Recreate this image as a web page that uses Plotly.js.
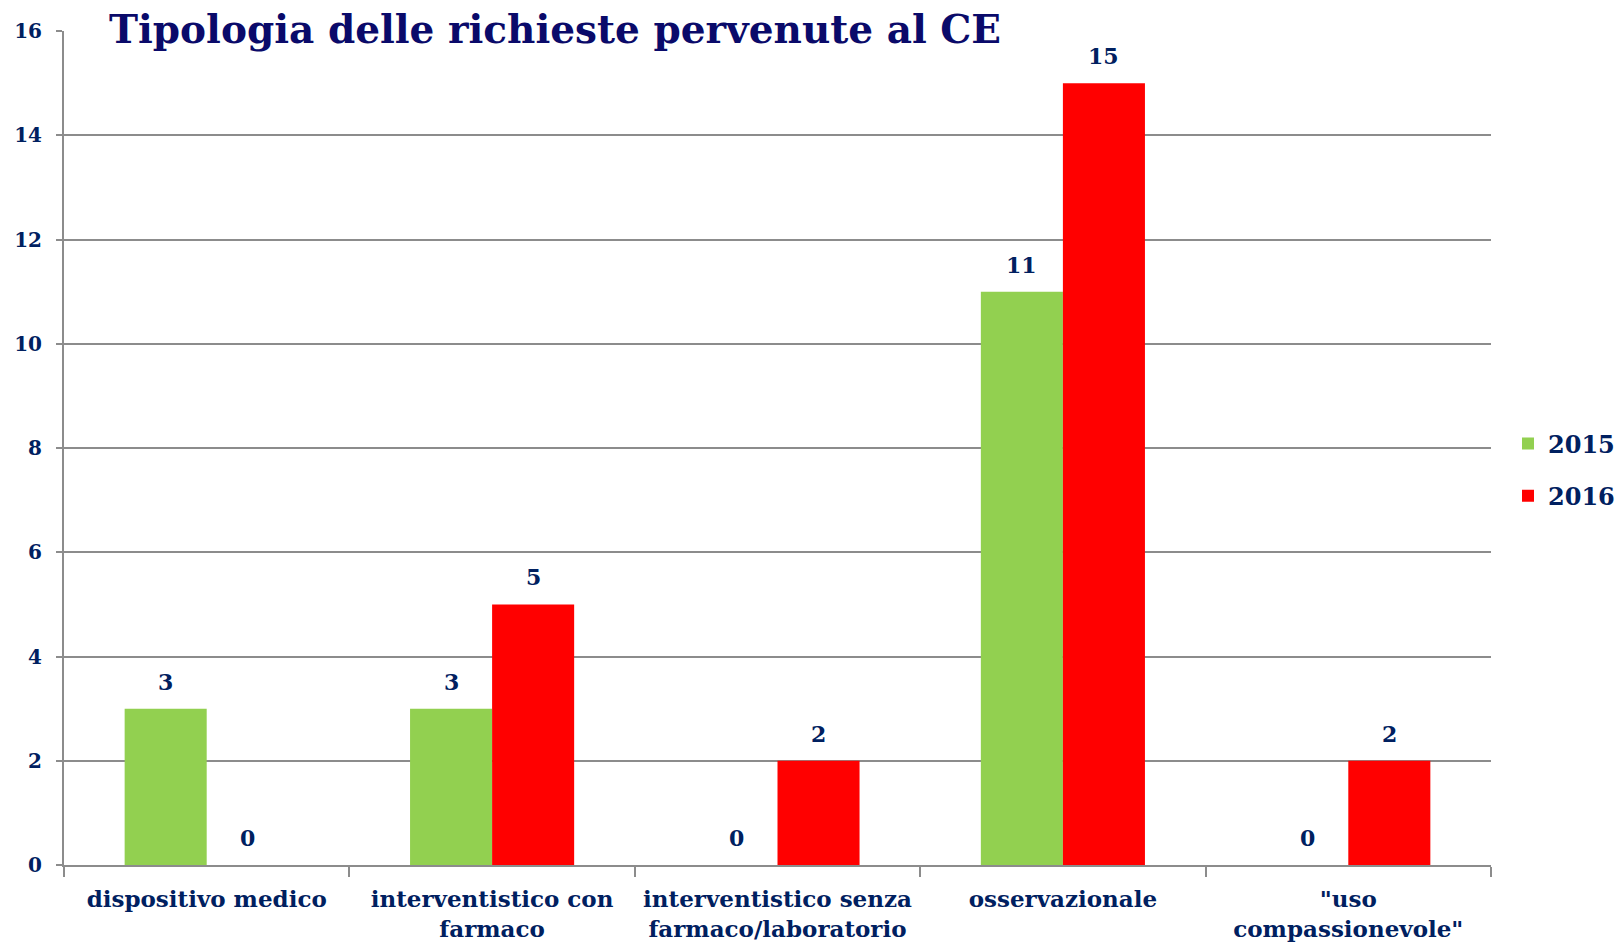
<html lang="it">
  <head>
    <meta charset="UTF-8" />
    <script src="https://cdn.plot.ly/plotly-3.0.1.min.js"></script>
    <title>Tipologia delle richieste</title>
    <style>
      body { margin: 0; background: #fff; }
    </style>
  </head>
  <body>
    <div id="chart" style="width:1624px; height:950px;"></div>
    <script>
      // categorie e valori
      const categories = [
        'dispositivo medico',
        'interventistico con<br>farmaco',
        'interventistico senza<br>farmaco/laboratorio',
        'osservazionale',
        '"uso<br>compassionevole"'
      ];
      const values2015 = [3, 3, 0, 11, 0];
      const values2016 = [0, 5, 2, 15, 2];
      const yTicks = [0, 2, 4, 6, 8, 10, 12, 14, 16];

      const navy = '#002060';
      const serif = 'DejaVu Serif, Liberation Serif, serif';
      const gap = 0.425;
      const half = (1 - gap) / 4; // distanza del centro barra dal centro categoria

      const traces = [
        { type: 'bar', name: '2015', x: categories, y: values2015, legendgroup: 'a',
          marker: { color: '#92D050' } },
        { type: 'bar', name: '2016', x: categories, y: values2016, legendgroup: 'b',
          marker: { color: '#FF0000' } }
      ];

      // etichette dei valori sopra le barre
      const labelFont = { family: serif, size: 22, color: navy, weight: 'bold' };
      const annotations = [];
      values2015.forEach((v, i) => annotations.push({
        x: i - half, y: v, xref: 'x', yref: 'y', text: String(v), showarrow: false,
        yanchor: 'bottom', yshift: 12, font: labelFont
      }));
      values2016.forEach((v, i) => annotations.push({
        x: i + half, y: v, xref: 'x', yref: 'y', text: String(v), showarrow: false,
        yanchor: 'bottom', yshift: 12, font: labelFont
      }));

      const layout = {
        width: 1624, height: 950,
        margin: { l: 64, r: 133, t: 31, b: 85 },
        paper_bgcolor: '#fff', plot_bgcolor: '#fff',
        font: { family: serif, color: navy, weight: 'bold' },
        title: {
          text: 'Tipologia delle richieste pervenute al CE',
          font: { family: serif, size: 39, color: '#0A0A6A', weight: 'bold' },
          x: 109 / 1624, xref: 'container', xanchor: 'left',
          y: 1 - 29 / 950, yref: 'container', yanchor: 'middle'
        },
        barmode: 'group', bargap: gap, bargroupgap: 0,
        xaxis: {
          type: 'category', showline: true, linecolor: '#8C8C8C', linewidth: 2,
          ticks: 'outside', tickson: 'boundaries', ticklen: 10, tickcolor: '#8C8C8C', tickwidth: 2,
          ticklabelstandoff: 12,
          tickfont: { family: serif, size: 23, color: navy, weight: 'bold' },
          showgrid: false
        },
        yaxis: {
          range: [0, 16], tickvals: yTicks, ticks: 'outside', ticklen: 6,
          tickcolor: '#8C8C8C', tickwidth: 2, ticklabelstandoff: 10,
          showline: true, linecolor: '#8C8C8C', linewidth: 2,
          gridcolor: '#8C8C8C', gridwidth: 2, zeroline: false,
          tickfont: { family: serif, size: 20, color: navy, weight: 'bold' }
        },
        legend: {
          xref: 'container', x: 1508 / 1624, xanchor: 'left',
          yref: 'container', y: 1 - 470 / 950, yanchor: 'middle',
          font: { family: serif, size: 24, color: navy, weight: 'bold' },
          itemwidth: 30, tracegroupgap: 18
        },
        annotations: annotations,
        showlegend: true
      };

      Plotly.newPlot('chart', traces, layout, { displayModeBar: false });
    </script>
  </body>
</html>
